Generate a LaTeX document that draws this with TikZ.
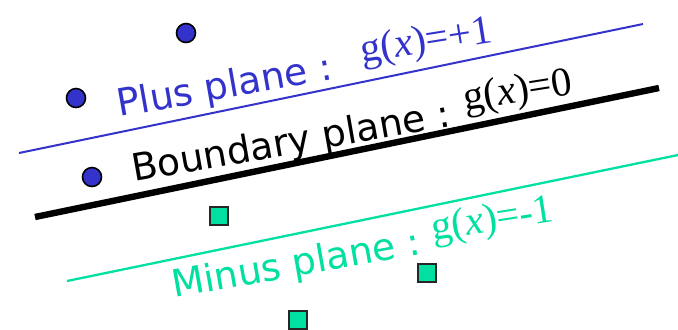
\documentclass[tikz,border=0pt]{standalone}
\usepackage{fontspec}
\setmainfont{Liberation Serif}
\setsansfont{DejaVu Sans}
\usepackage{tikz}
\definecolor{plusblue}{HTML}{3333CC}
\definecolor{minusgreen}{HTML}{00E0A0}

\begin{document}
\begin{tikzpicture}[
  x=0.5pt, y=-0.5pt,
  posdot/.style={circle, draw=black, line width=0.8pt, fill=plusblue,
                 inner sep=0pt, minimum size=9.5pt},
  negsqr/.style={rectangle, draw=black!85, line width=0.9pt, fill=minusgreen,
                 inner sep=0pt, minimum size=9pt},
  planelbl/.style={anchor=base west, rotate=10, inner sep=0pt,
                   font=\sffamily\fontsize{18.8}{22}\selectfont},
  eqnlbl/.style={anchor=base west, rotate=9, inner sep=0pt,
                 font=\rmfamily\fontsize{20.5}{24}\selectfont},
  planeline/.style={line width=1pt}
]
\useasboundingbox (0,0) rectangle (678,329);

%% Plane end points
\coordinate (p1) at (19,153);  \coordinate (p2) at (643,24);
\coordinate (b1) at (35,217);  \coordinate (b2) at (659,88);
\coordinate (m1) at (67,281);  \coordinate (m2) at (678,155);

%% Planes
\draw[planeline, plusblue] (p1) -- (p2);
\draw[planeline, line width=3.2pt] (b1) -- (b2);
\draw[planeline, minusgreen, line width=1.15pt] (m1) -- (m2);

%% Labels
\node[planelbl, plusblue]   (plusname)  at (119,117) {Plus plane :};
\node[eqnlbl, plusblue]     (pluseq)    at (362,63)  {g(\textit{x})=+1};
\node[planelbl]             (bndname)   at (134,182) {Boundary plane :};
\node[eqnlbl]               (bndeq)     at (465,111) {g(\textit{x})=0};
\node[planelbl, minusgreen] (minusname) at (174,298) {Minus plane :};
\node[eqnlbl, minusgreen]   (minuseq)   at (433,241) {g(\textit{x})=-1};

%% Positive samples
\node[posdot] (d1) at (186,33)  {};
\node[posdot] (d2) at (76,98)   {};
\node[posdot] (d3) at (92,177)  {};

%% Negative samples
\node[negsqr] (s1) at (219,216) {};
\node[negsqr] (s2) at (427,273) {};
\node[negsqr] (s3) at (298,320) {};

\end{tikzpicture}
\end{document}
